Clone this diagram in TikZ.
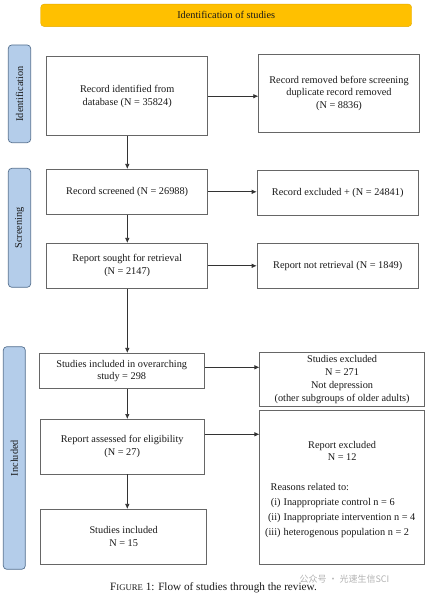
\documentclass[tikz,border=0pt]{standalone}
\usepackage{fontspec}
\setmainfont{Liberation Serif}
\newfontfamily\cjkfont{Noto Sans CJK SC}
\usetikzlibrary{arrows.meta}
\definecolor{banner}{HTML}{FFC000}
\definecolor{bannerdraw}{HTML}{E3AA00}
\definecolor{sidefill}{HTML}{B4CDEA}
\definecolor{sidedraw}{HTML}{55708F}
\definecolor{boxdraw}{HTML}{666666}
\definecolor{linecol}{HTML}{333333}
\tikzset{
  txt/.style={font=\fontsize{10.3}{12.7}\selectfont, text=black!90},
  flowbox/.style={txt, draw=boxdraw, line width=0.7pt, align=center, inner sep=0pt, fill=white},
  sidebox/.style={txt, draw=sidedraw, fill=sidefill, line width=0.7pt, rounded corners=3.5pt, inner sep=0pt},
  conn/.style={draw=linecol, line width=0.7pt, -{Latex[length=5pt,width=4.5pt]}},
}
\begin{document}
\begin{tikzpicture}[x=1pt,y=-1pt]
\useasboundingbox (0,0) rectangle (426,598);
% banner
\node[txt, draw=bannerdraw, fill=banner, rounded corners=3.5pt, minimum width=371pt, minimum height=22.5pt, inner sep=0pt] (banner) at (226.2,15.3) {Identification of studies};
% side labels
\node[sidebox, minimum width=22.4pt, minimum height=97.7pt] (sid) at (19.5,93.8) {};
\node[txt, rotate=90] (sidt) at (sid.center) {Identification};
\node[sidebox, minimum width=22.4pt, minimum height=119pt] (sscr) at (19.5,227.8) {};
\node[txt, rotate=90] (sscrt) at (sscr.center) {Screening};
\node[sidebox, minimum width=22pt, minimum height=222.6pt] (sinc) at (14.3,458) {};
\node[txt, rotate=90] (sinct) at (sinc.center) {Included};
% boxes
\node[flowbox, minimum width=161pt, minimum height=79pt] (b1) at (127.2,96.2) {Record identified from\\database (N = 35824)};
\node[flowbox, minimum width=160.6pt, minimum height=78pt] (b2) at (339,93.3) {Record removed before screening\\duplicate record removed\\(N = 8836)};
\node[flowbox, minimum width=161pt, minimum height=45pt] (b3) at (127.2,191.8) {Record screened (N = 26988)};
\node[flowbox, minimum width=161.3pt, minimum height=45.3pt] (b4) at (337.7,192.7) {Record excluded + (N = 24841)};
\node[flowbox, minimum width=161pt, minimum height=45pt] (b5) at (127.2,265.8) {Report sought for retrieval\\(N = 2147)};
\node[flowbox, minimum width=161.3pt, minimum height=44.6pt] (b6) at (337.7,266) {Report not retrieval (N = 1849)};
\node[flowbox, minimum width=165.3pt, minimum height=35.4pt] (b7) at (121.7,371) {Studies included in overarching\\study = 298};
\node[flowbox, minimum width=164.6pt, minimum height=54.4pt] (b8) at (342.1,379.5) {Studies excluded\\N = 271\\Not depression\\(other subgroups of older adults)};
\node[flowbox, minimum width=164.3pt, minimum height=54.7pt] (b9) at (122.2,446.7) {Report assessed for eligibility\\(N = 27)};
\node[flowbox, minimum width=164.6pt, minimum height=153.6pt] (b10) at (342.1,487.5) {};
\node[txt, align=center] (b10a) at (342.1,451) {Report excluded\\N = 12};
\node[txt, anchor=north west, inner sep=0pt] (b10b) at (265,480) {%
\setlength{\tabcolsep}{1.5pt}\renewcommand{\arraystretch}{1.17}%
\begin{tabular}{@{}rl@{}}
\multicolumn{2}{@{\hspace{5.5pt}}l}{Reasons related to:}\\
(i) & Inappropriate control n = 6\\
(ii) & Inappropriate intervention n = 4\\
(iii) & heterogenous population n = 2
\end{tabular}};
\node[flowbox, minimum width=166pt, minimum height=55pt] (b11) at (123.7,536.8) {Studies included\\N = 15};
% connectors
\coordinate (col) at (127.3,0);
\draw[conn] (b1.south -| col) -- (b3.north -| col);
\draw[conn] (b3.south -| col) -- (b5.north -| col);
\draw[conn] (b5.south -| col) -- (b7.north -| col);
\draw[conn] (b7.south -| col) -- (b9.north -| col);
\draw[conn] (b9.south -| col) -- (b11.north -| col);
\draw[conn] (b1.east) -- (b1.east -| b2.west);
\draw[conn] (b3.east) -- (b3.east -| b4.west);
\draw[conn] (b5.east) -- (b5.east -| b6.west);
\draw[conn] ([yshift=3.7pt]b7.east) -- ([yshift=3.7pt]b7.east -| b8.west);
\draw[conn] ([yshift=12.4pt]b9.east) -- ([yshift=12.4pt]b9.east -| b10.west);
% caption
\node[font=\fontsize{11.2}{13}\selectfont, text=black!90] (cap) at (213.5,587.3) {F{\fontsize{8.7}{10}\selectfont IGURE} 1: Flow of studies through the review.};
\node[font=\cjkfont\fontsize{9}{10}\selectfont, text=black!30, anchor=west] (wm) at (296,579) {公众号 · 光速生信SCI};
\end{tikzpicture}
\end{document}
